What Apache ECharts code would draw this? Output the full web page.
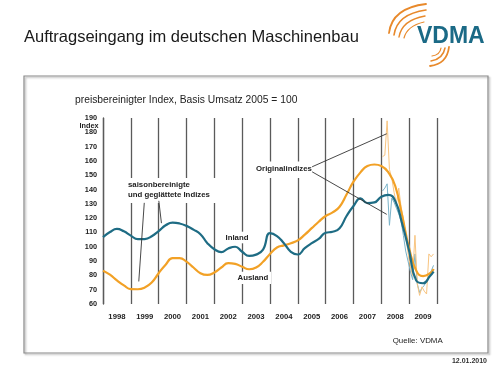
<!DOCTYPE html>
<html><head><meta charset="utf-8">
<script src="https://cdn.jsdelivr.net/npm/echarts@6/dist/echarts.min.js"></script>
<style>html,body{margin:0;padding:0;background:#fff}#c{width:500px;height:379px}</style>
</head><body><div id="c"></div>
<script>
// ---- data ----
const years = ['1998','1999','2000','2001','2002','2003','2004','2005','2006','2007','2008','2009'];

// smoothed series, sampled quarterly (decimal year)
const smoothT = [
 1998.00,1998.25,1998.50,1998.75,1999.00,1999.25,1999.50,1999.75,
 2000.00,2000.25,2000.50,2000.75,2001.00,2001.25,2001.50,2001.75,
 2002.00,2002.25,2002.50,2002.75,2003.00,2003.25,2003.50,2003.75,
 2004.00,2004.25,2004.50,2004.75,2005.00,2005.25,2005.50,2005.75,
 2006.00,2006.25,2006.50,2006.75,2007.00,2007.25,2007.50,2007.75,
 2008.00,2008.25,2008.50,2008.75,2009.00,2009.25,2009.50,2009.75,2009.88];
const inlandSmooth = [
 106.7,110.3,112.5,110.8,107.8,105.3,105.4,107.3,
 111.0,115.0,116.9,116.3,114.6,112.0,108.8,102.5,
 98.3,96.3,98.8,100.0,96.5,93.6,94.5,98.0,
 109.5,107.5,102.5,96.5,94.6,99.0,102.5,105.5,
 109.8,110.5,113.0,121.5,128.5,133.8,130.5,131.0,
 135.0,136.3,132.0,116.0,97.0,76.5,74.5,79.5,82.6];
const auslandSmooth = [
 83.3,80.5,76.5,73.0,70.4,70.3,71.5,75.0,
 81.5,87.5,92.0,92.0,89.6,85.5,81.5,80.3,
 82.0,85.5,88.5,88.0,86.0,84.3,85.5,89.5,
 95.0,99.5,101.0,102.5,104.5,108.5,113.0,117.5,
 121.5,124.0,128.0,136.5,145.5,152.0,156.5,157.5,
 156.5,152.0,142.5,121.5,99.0,83.5,79.5,81.5,84.5];

// original (monthly) indices
const origMonths = [
 '2008-01','2008-02','2008-03','2008-04','2008-05','2008-06','2008-07','2008-08','2008-09','2008-10','2008-11','2008-12',
 '2009-01','2009-02','2009-03','2009-04','2009-05','2009-06','2009-07','2009-08','2009-09','2009-10','2009-11'];
const inlandOrig = [139,141,144,115,134,131,127,123,118,108,97,90, 83,77,95,74,68,71,73,76,80,83,87];
const auslandOrig = [163,164,188,154,148,138,130,141,128,120,108,96, 86,80,108,74,66,72,69,67,95,93,95];

// ---- helpers ----
const FONT = "'Liberation Sans', Arial, sans-serif";
const monthToX = s => { const p = s.split('-').map(Number); return p[0] + (p[1] - 0.5) / 12; };
const pairs = (xs, vs) => xs.map((x, i) => [x, vs[i]]);
const origX = origMonths.map(monthToX);

// annotation arrows (data coordinates)
const arrows = [
 [[1999.483,130.7],[1999.285,75.75]],
 [[2000.005,132.1],[2000.10,116.5]],
 [[2005.513,155.9],[2008.194,179.0]],
 [[2005.513,152.4],[2008.194,122.65]]
];

const chart = echarts.init(document.getElementById('c'), null, {renderer:'canvas'});
const option = {
  animation:false,
  backgroundColor:'#fff',
  textStyle:{fontFamily:FONT},
  grid:{left:103, right:63, top:118, bottom:75, containLabel:false},
  xAxis:[
    {type:'category', data:years, boundaryGap:true, gridIndex:0,
     axisLine:{show:false}, axisTick:{show:false},
     axisLabel:{interval:0, fontSize:7.7, fontWeight:'bold', color:'#222', margin:9, fontFamily:FONT},
     splitLine:{show:true, interval:0, lineStyle:{color:'#5a5a5a', width:1.3}}},
    {type:'value', min:1998, max:2010, show:false, gridIndex:0}
  ],
  yAxis:{type:'value', min:60, max:190, interval:10,
    axisLine:{show:true, lineStyle:{color:'#5a5a5a', width:1.3}},
    axisTick:{show:false}, splitLine:{show:false},
    axisLabel:{fontSize:7.3, fontWeight:'bold', color:'#222', margin:6, fontFamily:FONT}},
  series:[
    {name:'Inland Original', type:'line', xAxisIndex:1, data:pairs(origX, inlandOrig),
     showSymbol:false, lineStyle:{color:'#7ab3c9', width:1}, z:2},
    {name:'Ausland Original', type:'line', xAxisIndex:1, data:pairs(origX, auslandOrig),
     showSymbol:false, lineStyle:{color:'#f8c47f', width:1}, z:2},
    {name:'Ausland', type:'line', xAxisIndex:1, data:pairs(smoothT, auslandSmooth), smooth:0.5,
     showSymbol:false, lineStyle:{color:'#f2a126', width:2.2}, z:3},
    {name:'Inland', type:'line', xAxisIndex:1, data:pairs(smoothT, inlandSmooth), smooth:0.5,
     showSymbol:false, lineStyle:{color:'#1e6c84', width:2.2}, z:3,
     markLine:{silent:true, symbol:['none','arrow'], symbolSize:[0,5], animation:false,
       lineStyle:{color:'#333', width:0.9, type:'solid'}, label:{show:false},
       emphasis:{disabled:true},
       data:arrows.map(a => [{coord:a[0]},{coord:a[1]}])}}
  ]
};
chart.setOption(option);

const T = (text, x, y, o) => Object.assign({type:'text', x:x, y:y, z:10, silent:true,
  style:Object.assign({text:text, fontFamily:FONT, fontSize:8, fill:'#222', align:'left', verticalAlign:'middle'}, o||{})});
const R = (x, y, w, h) => ({type:'rect', z:1, silent:true, shape:{x:x,y:y,width:w,height:h}, style:{fill:'#fff'}});
const B = (x1,y1,cx,cy,x2,y2,lw) => ({type:'bezierCurve', z:10, silent:true,
  shape:{x1:x1,y1:y1,cpx1:cx,cpy1:cy,x2:x2,y2:y2}, style:{stroke:'#e8892b', lineWidth:lw, fill:null, lineCap:'round'}});

const graphic = [
  {type:'rect', z:-10, silent:true, shape:{x:24,y:76,width:464,height:277},
   style:{fill:'none', stroke:'#8a8a8a', lineWidth:1.2, shadowBlur:2, shadowOffsetX:1.5, shadowOffsetY:1.5, shadowColor:'rgba(0,0,0,0.3)'}},
  T('Auftragseingang im deutschen Maschinenbau', 24, 37, {fontSize:16.5, fill:'#1a1a1a'}),
  T('preisbereinigter Index, Basis Umsatz 2005 = 100', 75, 100, {fontSize:10.3, fill:'#222'}),
  T('Index', 98.5, 125.5, {fontSize:7.3, fontWeight:'bold', align:'right'}),
  T('Quelle: VDMA', 392.7, 340.7, {fontSize:7.9, fill:'#222'}),
  T('12.01.2010', 487, 360.7, {fontSize:7, fontWeight:'bold', fill:'#333', align:'right'}),
  T('VDMA', 417, 37, {fontSize:23, fontWeight:'bold', fill:'#1b6a86'}),
  B(389,33,392,8,426,4,1.8), B(394,35,397,14,426,10,1.6), B(399,37,402,20,425,16,1.4), B(404,38,407,26,424,22,1.2),
  B(430,66,447,64,449,47,1.8), B(431,61,443,59,445,48,1.5), B(432,56,440,55,441,48,1.2),
  R(125,178,91,25),
  T('saisonbereinigte', 128, 185, {fontWeight:'bold', fontSize:7.8}),
  T('und geglättete Indizes', 128, 195, {fontWeight:'bold', fontSize:7.8}),
  R(254,161.5,60,16.5),
  T('Originalindizes', 284, 169.3, {fontWeight:'bold', fontSize:7.8, align:'center'}),
  R(224,231.7,26,11.6),
  T('Inland', 237, 237.5, {fontWeight:'bold', fontSize:7.8, align:'center'}),
  R(235,271.7,36,12.3),
  T('Ausland', 253, 277.8, {fontWeight:'bold', fontSize:7.8, align:'center'})
];
chart.setOption({graphic:graphic});
</script></body></html>
